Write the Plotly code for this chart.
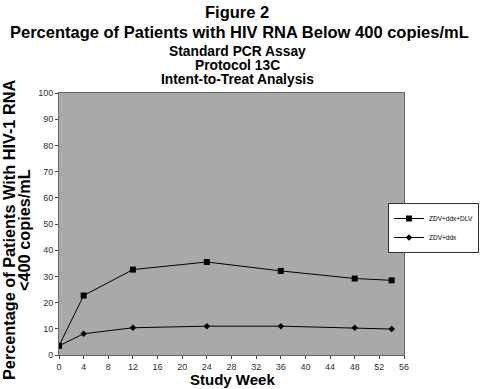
import plotly.graph_objects as go

weeks = [0, 4, 12, 24, 36, 48, 54]
dlv = [3.5, 22.7, 32.6, 35.5, 32.1, 29.2, 28.5]
ddx = [3.5, 8.1, 10.4, 11.0, 11.0, 10.4, 9.9]
x_ticks = list(range(0, 57, 4))
y_ticks = list(range(0, 101, 10))

fig = go.Figure()
fig.add_trace(go.Scatter(x=weeks, y=dlv, mode="lines+markers", name="ZDV+ddx+DLV",
                         line=dict(color="black", width=1),
                         marker=dict(symbol="square", size=6, color="black")))
fig.add_trace(go.Scatter(x=weeks, y=ddx, mode="lines+markers", name="ZDV+ddx",
                         line=dict(color="black", width=1),
                         marker=dict(symbol="diamond", size=5, color="black")))

W, H = 480, 389
L, R, T, B = 59, 76, 93, 34

def px_x(p):
    return (p - L) / (W - L - R)

def px_y(p):
    return (H - B - p) / (H - T - B)

fig.update_layout(
    width=W, height=H,
    margin=dict(l=L, r=R, t=T, b=B, autoexpand=False),
    paper_bgcolor="white", plot_bgcolor="#a9a9a9",
    font=dict(family="Liberation Sans, Arial, sans-serif", color="black"),
    showlegend=True,
    legend=dict(x=px_x(479), y=px_y(228), xanchor="right", yanchor="middle",
                bgcolor="white", bordercolor="#333", borderwidth=1,
                font=dict(size=6.5), tracegroupgap=0, itemwidth=30),
    xaxis=dict(range=[0, 56], tickvals=x_ticks, showgrid=False, zeroline=False,
               showline=True, linecolor="#666", mirror=True, ticks="outside",
               ticklen=3, tickfont=dict(size=9, color="#333")),
    yaxis=dict(range=[0, 100], tickvals=y_ticks, showgrid=False, zeroline=False,
               showline=True, linecolor="#666", mirror=True, ticks="outside",
               ticklen=3, tickfont=dict(size=9, color="#333")),
)

anns = [
    ("<b>Figure 2</b>", 237, 12, 16.5, 0),
    ("<b>Percentage of Patients with HIV RNA Below 400 copies/mL</b>", 239, 32, 16.5, 0),
    ("<b>Standard PCR Assay</b>", 237, 51, 13.8, 0),
    ("<b>Protocol 13C</b>", 237, 65, 13.8, 0),
    ("<b>Intent-to-Treat Analysis</b>", 237, 79, 13.8, 0),
    ("<b>Study Week</b>", 232, 379, 15, 0),
    ("<b>Percentage of Patients With HIV-1 RNA</b>", 9, 230, 16.3, -90),
    ("<b>&lt;400 copies/mL</b>", 24, 230, 16.3, -90),
]
for text, x, y, s, ang in anns:
    fig.add_annotation(text=text, x=px_x(x), y=px_y(y), xref="paper", yref="paper",
                       xanchor="center", yanchor="middle", showarrow=False,
                       textangle=ang, font=dict(size=s, color="black"))

fig.write_html("out.html", config={"displayModeBar": False},
               post_script="document.body.style.margin='0';document.body.style.padding='0';")
